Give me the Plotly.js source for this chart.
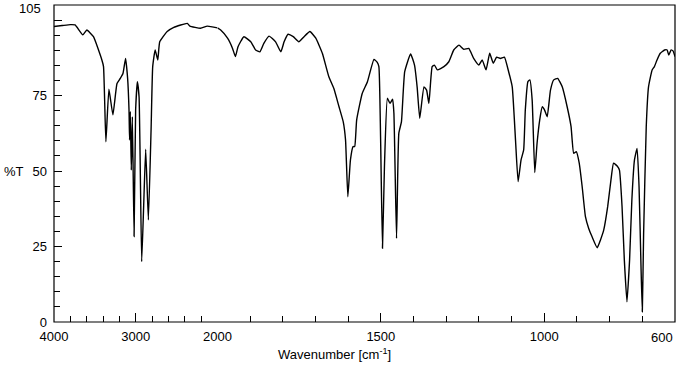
<!DOCTYPE html>
<html>
<head>
<meta charset="utf-8">
<script src="https://cdn.plot.ly/plotly-3.0.1.min.js"></script>
<style>html,body{margin:0;padding:0;background:#fff;}#chart{width:683px;height:375px;}</style>
</head>
<body>
<div id="chart"></div>
<script>
// Wavenumbers (cm^-1) and %T, high-wavenumber region (4000-2000, compressed scale)
const wnHigh = [4000, 3900, 3800, 3742, 3647, 3598, 3517, 3414, 3394, 3365, 3328, 3279, 3229, 3189, 3156, 3124, 3099, 3082, 3075, 3066, 3054, 3041, 3020, 3001, 2980, 2959, 2927, 2903, 2878, 2845, 2812, 2792, 2762, 2730, 2706, 2615, 2534, 2369, 2337, 2206, 2124, 2000];
const tHigh  = [97.9, 98.2, 98.5, 98.4, 95.1, 96.7, 94.5, 86.8, 84.6, 59.7, 77.1, 68.6, 79.0, 80.7, 82.3, 87.3, 80.7, 70.2, 60.3, 69.7, 50.3, 68.0, 28.3, 70.2, 79.6, 74.6, 20.0, 38.2, 57.2, 33.8, 63.6, 84.6, 90.1, 86.8, 92.8, 96.2, 97.6, 98.9, 98.0, 97.3, 98.0, 97.4];

// Low-wavenumber region (2000-600)
const wnLow = [2000, 1990, 1969, 1954, 1945, 1937, 1919, 1898, 1883, 1870, 1858, 1842, 1822, 1806, 1796, 1784, 1768, 1751, 1735, 1717, 1699, 1679, 1659, 1644, 1628, 1615, 1608, 1601, 1593, 1585, 1580, 1574, 1557, 1541, 1521, 1511, 1506, 1501, 1495, 1489, 1480, 1472, 1464, 1460, 1452, 1445, 1437, 1427, 1409, 1397, 1389, 1381, 1368, 1360, 1353, 1343, 1336, 1327, 1307, 1292, 1277, 1261, 1246, 1231, 1216, 1200, 1190, 1178, 1167, 1156, 1146, 1134, 1122, 1109, 1098, 1088, 1080, 1071, 1063, 1058, 1050, 1044, 1037, 1029, 1022, 1014, 1006, 999, 991, 981, 971, 959, 945, 930, 918, 910, 902, 893, 884, 874, 864, 854, 838, 828, 818, 806, 796, 788, 777, 770, 762, 755, 747, 739, 732, 724, 716, 710, 704, 700, 696, 688, 681, 670, 663, 655, 645, 632, 624, 619, 612, 606, 600];
const tLow  = [97.4, 96.7, 94.0, 90.7, 87.9, 91.2, 94.5, 92.8, 90.1, 89.5, 92.3, 94.7, 92.8, 89.5, 92.8, 95.3, 94.5, 92.8, 94.5, 96.2, 94.0, 89.0, 81.2, 77.4, 71.3, 66.3, 60.3, 41.5, 53.7, 58.1, 58.1, 66.9, 75.7, 79.6, 87.0, 86.0, 84.6, 62.5, 24.4, 51.4, 74.1, 72.4, 73.8, 69.1, 27.7, 62.5, 66.3, 82.9, 88.8, 85.1, 77.9, 67.5, 77.9, 76.8, 72.4, 84.6, 85.1, 83.5, 84.6, 86.2, 90.1, 91.7, 90.3, 90.6, 87.3, 85.1, 86.8, 83.5, 89.0, 85.7, 87.7, 87.3, 87.7, 82.9, 77.9, 60.3, 46.5, 53.7, 57.0, 70.2, 79.6, 80.2, 73.5, 49.5, 59.2, 66.9, 71.3, 70.2, 68.0, 76.8, 80.2, 80.7, 77.9, 71.3, 64.7, 55.9, 56.4, 52.6, 44.8, 34.9, 31.0, 28.3, 24.6, 27.2, 30.5, 38.2, 47.0, 52.6, 51.7, 50.3, 38.2, 20.5, 6.7, 20.5, 40.4, 53.7, 57.5, 44.8, 18.3, 3.4, 29.4, 64.7, 77.9, 83.5, 84.6, 86.8, 89.0, 90.1, 90.1, 88.4, 90.1, 89.8, 87.9];

const xTicksHigh = [4000, 3000];
const xMinorHigh = [3800, 3600, 3400, 3200, 2800, 2600, 2400, 2200];
const xTicksLow = [2000, 1500, 1000, 600];
const xTickTextLow = ['2000', '1500', '1000', ''];
const xMinorLow = [1900, 1800, 1700, 1600, 1400, 1300, 1200, 1100, 900, 800, 700];
const yTicks = [0, 25, 50, 75, 100];
const yTickText = ['0', '25', '50', '75', ''];
const yMinor = [5, 10, 15, 20, 30, 35, 40, 45, 55, 60, 65, 70, 80, 85, 90, 95];
const yMaxLabel = '105';

const font = {family: 'Liberation Sans, Arial, sans-serif', size: 13, color: '#000'};
const lineStyle = {color: '#000', width: 1.4, shape: 'spline', smoothing: 0.4};

const traces = [
  {x: wnHigh, y: tHigh, type: 'scatter', mode: 'lines', line: lineStyle, xaxis: 'x', yaxis: 'y', hoverinfo: 'skip'},
  {x: wnLow, y: tLow, type: 'scatter', mode: 'lines', line: lineStyle, xaxis: 'x2', yaxis: 'y', hoverinfo: 'skip'}
];

const split = 500 / 1900;
const axisCommon = {
  showgrid: false, zeroline: false, showline: false,
  ticks: 'inside', ticklen: 9, tickwidth: 1, tickcolor: '#000',
  tickfont: font, tickmode: 'array', ticklabelstandoff: 5, ticklabeloverflow: 'allow'
};

const layout = {
  width: 683, height: 375,
  margin: {l: 54, r: 8, t: 5, b: 53},
  paper_bgcolor: '#fff', plot_bgcolor: '#fff',
  showlegend: false,
  font: font,
  xaxis: Object.assign({}, axisCommon, {
    domain: [0, split], range: [4000, 2000], anchor: 'y',
    tickvals: xTicksHigh, ticktext: xTicksHigh.map(String),
    minor: {tickmode: 'array', tickvals: xMinorHigh, ticks: 'inside', ticklen: 6, tickcolor: '#000', tickwidth: 1}
  }),
  xaxis2: Object.assign({}, axisCommon, {
    domain: [split, 1], range: [2000, 600], anchor: 'y',
    tickvals: xTicksLow, ticktext: xTickTextLow,
    minor: {tickmode: 'array', tickvals: xMinorLow, ticks: 'inside', ticklen: 6, tickcolor: '#000', tickwidth: 1}
  }),
  yaxis: Object.assign({}, axisCommon, {
    range: [0, 105], anchor: 'x',
    tickvals: yTicks, ticktext: yTickText, ticklen: 8, ticklabelstandoff: 6,
    minor: {tickmode: 'array', tickvals: yMinor, ticks: 'inside', ticklen: 6, tickcolor: '#000', tickwidth: 1}
  }),
  shapes: [
    {type: 'rect', xref: 'paper', yref: 'paper', x0: 0, x1: 1, y0: 0, y1: 1, line: {color: '#000', width: 1.2}, layer: 'above'}
  ],
  annotations: [
    {text: yMaxLabel, xref: 'paper', yref: 'paper', x: -0.019, y: 1, xanchor: 'right', yanchor: 'top', yshift: 5, borderpad: 0, showarrow: false, font: font},
    {text: '%T', xref: 'paper', yref: 'paper', x: -0.084, y: 0.476, xanchor: 'left', yanchor: 'middle', showarrow: false, font: font},
    {text: 'Wavenumber [cm<sup>-1</sup>]', xref: 'paper', yref: 'paper', x: 0.452, y: -0.1, xanchor: 'center', yanchor: 'middle', showarrow: false, font: font},
    {text: '600', xref: 'paper', yref: 'paper', x: 1.0, y: -0.05, xanchor: 'right', yanchor: 'middle', showarrow: false, font: font}
  ]
};

Plotly.newPlot('chart', traces, layout, {displayModeBar: false, staticPlot: true});
</script>
</body>
</html>
